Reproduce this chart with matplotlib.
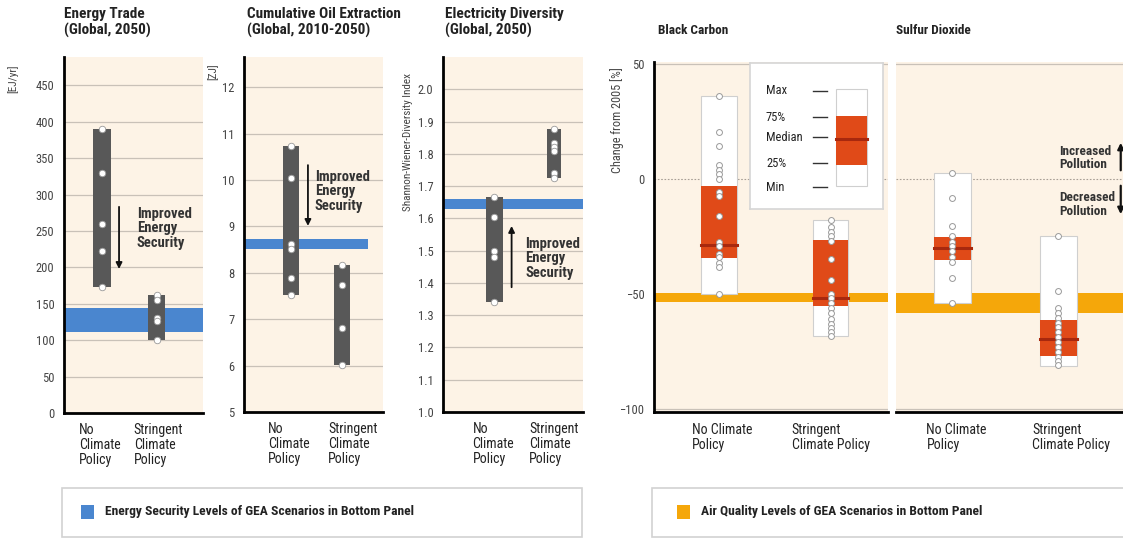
import matplotlib
matplotlib.use("Agg")
import matplotlib.pyplot as plt
import matplotlib.transforms as mtransforms
from matplotlib.patches import Rectangle

plt.rcParams['font.family'] = ['Roboto Condensed', 'Liberation Sans Narrow', 'Liberation Sans', 'DejaVu Sans']

W, H = 1123, 538

# energy security panels: scenario values (no policy / stringent policy) and GEA band
cats = ["No\nClimate\nPolicy", "Stringent\nClimate\nPolicy"]
trade_ncp = [390, 330, 260, 223, 173]
trade_scp = [162, 155, 130, 126, 100]
trade_band = (111, 144)
oil_ncp = [10.73, 10.05, 8.62, 8.51, 7.89, 7.52]
oil_scp = [8.17, 7.74, 6.81, 6.02]
oil_band = (8.52, 8.73)
div_ncp = [1.665, 1.605, 1.50, 1.48, 1.34]
div_scp = [1.878, 1.835, 1.822, 1.81, 1.742, 1.725]
div_band = (1.628, 1.66)

# air quality panels: change from 2005 [%]
aq_cats = ["No Climate\nPolicy", "Stringent\nClimate Policy"]
bc_ncp = [36, 20.5, 14.5, 6, 4, 2, 0, -5.5, -7.5, -16, -27.5, -29, -32.5, -34, -36.5, -38.5, -50]
bc_scp = [-18, -21, -23, -25, -27, -35, -44, -50, -52, -54, -56, -58.5, -61, -63, -65, -66.5, -68.5]
so2_ncp = [2.7, -8.4, -20.3, -24.8, -27.3, -29.1, -31.2, -33.8, -36, -43.2, -54]
so2_scp = [-25, -48.7, -56.3, -58.4, -60.6, -62.8, -64.5, -66.7, -68.8, -71, -73.2, -75.3, -77.5, -79.4, -81.2]
# (min, 25%, median, 75%, max)
bc_stats = [(-50, -34.5, -28.7, -3.0, 36), (-68.5, -55.2, -52.0, -26.5, -18)]
so2_stats = [(-54, -35.3, -30.1, -25.1, 2.7), (-81.3, -77.2, -69.7, -61.3, -25)]
bc_band = (-53.5, -49.5)
so2_band = (-58.3, -49.6)

BG = '#fdf3e6'
GRID = '#c9c1b8'
BAR = '#585858'
BLUE = '#4a86cf'
ORANGE = '#f5a70a'
RED = '#e04a18'
MED = '#a8280e'
TICK = '#444444'

fig = plt.figure(figsize=(W / 100, H / 100), dpi=100)
fig.patch.set_facecolor('white')


def px_axes(x0, y0, x1, y1):
    return fig.add_axes([x0 / W, (H - y1) / H, (x1 - x0) / W, (y1 - y0) / H])


def style(ax, ylim, yticks, xlim, grid_ticks, left=True):
    ax.set_facecolor(BG)
    ax.set_xlim(*xlim)
    ax.set_ylim(*ylim)
    ax.set_yticks(yticks)
    ax.set_xticks([])
    ax.tick_params(axis='y', length=0, pad=7, labelsize=9, labelcolor=TICK)
    for s in ['top', 'right']:
        ax.spines[s].set_visible(False)
    ax.spines['bottom'].set_linewidth(2)
    ax.spines['left'].set_linewidth(2)
    ax.spines['left'].set_visible(left)
    for g in grid_ticks:
        ax.axhline(g, color=GRID, lw=0.9, zorder=1)


def cat_labels(ax, labels, dx, dy=-10):
    tr = mtransforms.blended_transform_factory(ax.transData, ax.transAxes)
    for i, lab in enumerate(labels):
        ax.annotate(lab, xy=(i, 0), xycoords=tr, xytext=(dx[i], dy),
                    textcoords='offset pixels', ha='left', va='top',
                    fontsize=10, color='#222', linespacing=1.1, annotation_clip=False)


def range_bar(ax, vals, x, w):
    lo, hi = min(vals), max(vals)
    ax.bar(x, hi - lo, bottom=lo, width=w, color=BAR, zorder=3)
    ax.scatter([x] * len(vals), vals, s=22, facecolor='white', edgecolor='#9a9a9a',
               linewidth=0.6, zorder=4)


def arrow_note(ax, x, y0, y1, tx, ty, text):
    ax.annotate('', xy=(x, y1), xytext=(x, y0),
                xycoords=('axes fraction', 'data'), textcoords=('axes fraction', 'data'),
                arrowprops=dict(arrowstyle='-|>', color='#111', lw=1.3, mutation_scale=9),
                zorder=5)
    ax.text(tx, ty, text, transform=mtransforms.blended_transform_factory(ax.transAxes, ax.transData),
            ha='left', va='center', fontsize=10.5, fontweight='bold', color='#333', linespacing=1.05)


# --- Energy trade ---
ax1 = px_axes(64, 57, 203, 413)
style(ax1, (0, 489), range(0, 451, 50), (-0.7, 1.85), range(50, 451, 50))
ax1.axhspan(*trade_band, color=BLUE, zorder=2, lw=0)
range_bar(ax1, trade_ncp, 0, 0.33)
range_bar(ax1, trade_scp, 1, 0.30)
arrow_note(ax1, 0.396, 287, 194, 0.525, 254, "Improved\nEnergy\nSecurity")
cat_labels(ax1, cats, [-23, -23])
ax1.text(-0.37, 0.94, "[EJ/yr]", transform=ax1.transAxes, rotation=90,
         ha='center', va='center', fontsize=8, color=TICK)

# --- Cumulative oil extraction ---
ax2 = px_axes(244, 57, 383, 412)
style(ax2, (5, 12.65), range(5, 13), (-0.92, 1.8), range(6, 13))
ax2.axhspan(*oil_band, xmax=0.89, color=BLUE, zorder=2, lw=0)
range_bar(ax2, oil_ncp, 0, 0.31)
range_bar(ax2, oil_scp, 1, 0.31)
arrow_note(ax2, 0.46, 10.38, 8.95, 0.51, 9.76, "Improved\nEnergy\nSecurity")
cat_labels(ax2, cats, [-23, -14])
ax2.text(-0.22, 0.96, "[ZJ]", transform=ax2.transAxes, rotation=90,
         ha='center', va='center', fontsize=8, color=TICK)

# --- Electricity diversity ---
ax3 = px_axes(443, 57, 583, 412)
style(ax3, (1.0, 2.1), [1.0 + 0.1 * i for i in range(11)], (-0.86, 1.48),
      [1.1 + 0.1 * i for i in range(10)])
ax3.set_yticklabels([f"{1.0 + 0.1 * i:.1f}" for i in range(11)])
ax3.axhspan(*div_band, color=BLUE, zorder=2, lw=0)
range_bar(ax3, div_ncp, 0, 0.28)
range_bar(ax3, div_scp, 1, 0.23)
arrow_note(ax3, 0.49, 1.378, 1.585, 0.586, 1.477, "Improved\nEnergy\nSecurity")
cat_labels(ax3, cats, [-22, -25])
ax3.text(-0.25, 0.76, "Shannon-Wiener-Diversity Index", transform=ax3.transAxes, rotation=90,
         ha='center', va='center', fontsize=8, color=TICK)

# panel titles
titles = [(64, "Energy Trade\n(Global, 2050)"),
          (247, "Cumulative Oil Extraction\n(Global, 2010-2050)"),
          (445, "Electricity Diversity\n(Global, 2050)")]
for x, t in titles:
    fig.text(x / W, 1 - 7 / H, t, ha='left', va='top', fontsize=11,
             fontweight='bold', color='#222', linespacing=1.2)


# --- Air quality panels ---
def aq_box(ax, vals, stats, x, w):
    mn, q1, md, q3, mx = stats
    ax.add_patch(Rectangle((x - w / 2, mn), w, mx - mn, facecolor='white',
                           edgecolor='#cfcfcf', lw=0.8, zorder=3))
    ax.add_patch(Rectangle((x - w / 2, q1), w, q3 - q1, facecolor=RED, lw=0, zorder=4))
    ax.plot([x - w / 2, x + w / 2], [md, md], color=MED, lw=2.2, zorder=5)
    ax.scatter([x] * len(vals), vals, s=18, facecolor='white', edgecolor='#9a9a9a',
               linewidth=0.7, zorder=6)


def aq_style(ax, xlim, left):
    ax.set_facecolor(BG)
    ax.set_xlim(*xlim)
    ax.set_ylim(-101.5, 51)
    ax.set_xticks([])
    ax.set_yticks([50, 0, -50, -100])
    ax.tick_params(axis='y', length=0, pad=7, labelsize=9, labelcolor=TICK)
    for s in ['top', 'right']:
        ax.spines[s].set_visible(False)
    ax.spines['bottom'].set_linewidth(2)
    ax.spines['left'].set_linewidth(2)
    if not left:
        ax.spines['left'].set_visible(False)
        ax.set_yticklabels([])
    for g in [50, -100]:
        ax.axhline(g, color=GRID, lw=0.9, zorder=1)
    ax.axhline(0, color='#a89f96', lw=0.8, ls=(0, (1.5, 1.5)), zorder=1)


ax4 = px_axes(654, 62, 888, 412)
aq_style(ax4, (-0.584, 1.516), True)
ax4.axhspan(*bc_band, color=ORANGE, zorder=2, lw=0)
for i, (v, st) in enumerate(zip([bc_ncp, bc_scp], bc_stats)):
    aq_box(ax4, v, st, i, 0.323)
cat_labels(ax4, aq_cats, [-27, -39], dy=-11)
ax4.text(-0.158, 0.834, "Change from 2005 [%]", transform=ax4.transAxes, rotation=90,
         ha='center', va='center', fontsize=8.8, color=TICK)

ax5 = px_axes(896, 62, 1123, 412)
aq_style(ax5, (-0.535, 1.615), False)
ax5.axhspan(*so2_band, color=ORANGE, zorder=2, lw=0)
for i, (v, st) in enumerate(zip([so2_ncp, so2_scp], so2_stats)):
    aq_box(ax5, v, st, i, 0.35)
cat_labels(ax5, aq_cats, [-26, -26], dy=-11)
ax5.annotate('', xy=(0.99, 17), xytext=(0.99, 2.6),
             xycoords=('axes fraction', 'data'), textcoords=('axes fraction', 'data'),
             arrowprops=dict(arrowstyle='-|>', color='#111', lw=1.6, mutation_scale=9))
ax5.annotate('', xy=(0.99, -16.5), xytext=(0.99, -1.7),
             xycoords=('axes fraction', 'data'), textcoords=('axes fraction', 'data'),
             arrowprops=dict(arrowstyle='-|>', color='#111', lw=1.6, mutation_scale=9))
tr5 = mtransforms.blended_transform_factory(ax5.transAxes, ax5.transData)
ax5.text(0.718, 9.1, "Increased\nPollution", transform=tr5, ha='left', va='center',
         fontsize=9.5, fontweight='bold', color='#333', linespacing=1.05)
ax5.text(0.718, -11, "Decreased\nPollution", transform=tr5, ha='left', va='center',
         fontsize=9.5, fontweight='bold', color='#333', linespacing=1.05)

for x, t in [(658, "Black Carbon"), (896, "Sulfur Dioxide")]:
    fig.text(x / W, 1 - 31 / H, t, ha='left', va='center', fontsize=9.5,
             fontweight='bold', color='#222')

# box-plot key
key = px_axes(750, 63, 883, 209)
key.set_xlim(0, 1)
key.set_ylim(0, 1)
key.set_xticks([])
key.set_yticks([])
key.set_facecolor('white')
for s in key.spines.values():
    s.set_color('#d6d6d6')
    s.set_linewidth(1.2)
key.set_zorder(10)
key_labels = ["Max", "75%", "Median", "25%", "Min"]
key_y = [0.81, 0.63, 0.49, 0.315, 0.15]
for lab, yy in zip(key_labels, key_y):
    key.text(0.12, yy, lab, ha='left', va='center', fontsize=9, color='#222')
    key.plot([0.47, 0.58], [yy, yy], color='#333', lw=1)
key.add_patch(Rectangle((0.65, 0.16), 0.23, 0.66, facecolor='white', edgecolor='#cfcfcf', lw=0.8))
key.add_patch(Rectangle((0.65, 0.30), 0.23, 0.337, facecolor=RED, lw=0))
key.plot([0.65, 0.88], [0.48, 0.48], color=MED, lw=2.2)

# bottom legend boxes
for (x0, x1, col, sq, txt) in [(62, 582, BLUE, 19, "Energy Security Levels of GEA Scenarios in Bottom Panel"),
                               (652, 1130, ORANGE, 25, "Air Quality Levels of GEA Scenarios in Bottom Panel")]:
    fig.patches.append(Rectangle((x0 / W, (H - 537) / H), (x1 - x0) / W, 49 / H,
                                 transform=fig.transFigure, facecolor='white',
                                 edgecolor='#d2d2d2', lw=1.2))
    fig.patches.append(Rectangle(((x0 + sq) / W, (H - 519) / H), 13 / W, 14 / H,
                                 transform=fig.transFigure, facecolor=col, lw=0))
    fig.text((x0 + sq + 24) / W, 1 - 512 / H, txt, ha='left', va='center', fontsize=9.7,
             fontweight='bold', color='#222')

fig.savefig("out.png", dpi=100, facecolor='white')
